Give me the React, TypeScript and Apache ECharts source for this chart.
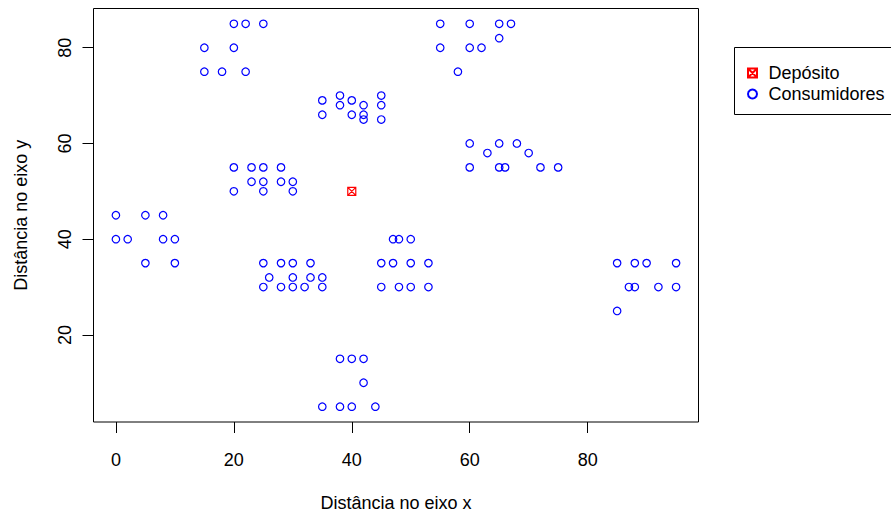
import React, { useEffect, useRef } from "react";
import * as echarts from "echarts";

const depotX = [40];
const depotY = [50];

const custX = [45,45,42,42,42,40,40,38,38,35,35,25,22,22,20,20,18,15,15,30,30,28,28,25,25,25,23,23,20,20,10,10,8,8,5,5,2,0,0,35,35,33,33,32,30,30,30,28,28,26,25,25,44,42,42,40,40,38,38,35,50,50,50,48,48,47,47,45,45,95,95,53,92,53,45,90,88,88,87,85,85,75,72,70,68,66,65,65,63,60,60,67,65,65,62,60,60,58,55,55];
const custY = [68,70,66,68,65,69,66,68,70,66,69,85,75,85,80,85,75,75,80,50,52,52,55,50,52,55,52,55,50,55,35,40,40,45,35,45,40,40,45,30,32,32,35,30,30,32,35,30,35,32,30,35,5,10,15,5,15,5,15,5,30,35,40,30,40,35,40,30,35,30,35,30,30,35,65,35,30,35,30,25,35,55,55,58,60,55,55,60,58,55,60,85,85,82,80,80,85,75,80,85];

const xTicks = [0, 20, 40, 60, 80];
const yTicks = [20, 40, 60, 80];

const seriesNames = ["Depósito", "Consumidores"];
const xTitle = "Distância no eixo x";
const yTitle = "Distância no eixo y";

const FONT = "'Liberation Sans', Arial, Helvetica, sans-serif";
const depotSymbol = "path://M0,0L10,0L10,10L0,10Z M0,0L10,10 M10,0L0,10";

export default function App() {
  const ref = useRef<HTMLDivElement>(null);
  useEffect(() => {
    if (!ref.current) return;
    const chart = echarts.init(ref.current, undefined, { renderer: "svg" });
    chart.setOption({
      animation: false,
      backgroundColor: "#fff",
      textStyle: { fontFamily: FONT },
      grid: {
        left: 93.5, top: 8.5, right: 192.5, bottom: 95,
        show: true, borderColor: "#000", borderWidth: 1, backgroundColor: "transparent",
      },
      xAxis: {
        type: "value", min: -3.8, max: 98.8,
        splitLine: { show: false },
        axisLine: { show: false, onZero: false },
        axisTick: { show: true, customValues: xTicks, length: 11, lineStyle: { color: "#000" } },
        axisLabel: { customValues: xTicks, margin: 29, fontSize: 18, color: "#000", fontFamily: FONT },
        name: xTitle, nameLocation: "middle", nameGap: 72,
        nameTextStyle: { fontSize: 18, color: "#000", fontFamily: FONT },
      },
      yAxis: {
        type: "value", min: 1.8, max: 88.2,
        splitLine: { show: false },
        axisLine: { show: false, onZero: false },
        axisTick: { show: true, customValues: yTicks, length: 11, lineStyle: { color: "#000" } },
        axisLabel: { customValues: yTicks, margin: 20, rotate: 90, fontSize: 18, color: "#000", fontFamily: FONT },
        name: yTitle, nameLocation: "middle", nameGap: 64, nameRotate: 90,
        nameTextStyle: { fontSize: 18, color: "#000", fontFamily: FONT },
      },
      legend: {
        orient: "vertical", left: 742, top: 59,
        itemWidth: 22, itemHeight: 9, itemGap: 3,
        textStyle: { fontSize: 18, color: "#000", fontFamily: FONT },
        data: [
          { name: seriesNames[0], icon: depotSymbol },
          { name: seriesNames[1], icon: "circle" },
        ],
      },
      graphic: [
        {
          type: "rect",
          shape: { x: 734.5, y: 47.5, width: 200, height: 67 },
          style: { fill: "none", stroke: "#000", lineWidth: 1 },
          silent: true,
        },
      ],
      series: [
        {
          name: seriesNames[1], type: "scatter",
          data: custX.map((x, i) => [x, custY[i]]),
          symbol: "circle", symbolSize: 7.5,
          itemStyle: { color: "rgba(0,0,0,0)", borderColor: "#0000ff", borderWidth: 1.2, opacity: 1 },
        },
        {
          name: seriesNames[0], type: "scatter",
          data: depotX.map((x, i) => [x, depotY[i]]),
          symbol: depotSymbol, symbolSize: 8,
          itemStyle: { color: "rgba(0,0,0,0)", borderColor: "#ff0000", borderWidth: 1.2, opacity: 1 },
        },
      ],
    });
    return () => chart.dispose();
  }, []);
  return <div ref={ref} style={{ width: 891, height: 517, position: "absolute", left: 0, top: 0 }} />;
}
